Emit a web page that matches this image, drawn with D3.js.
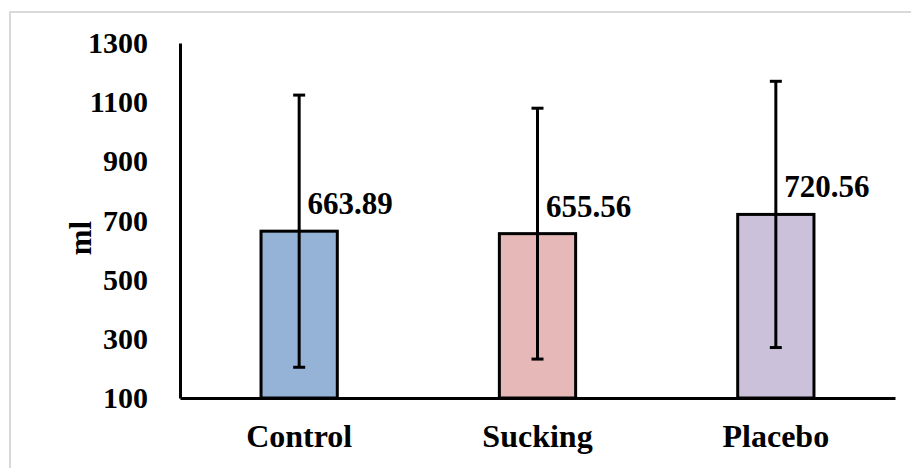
<!DOCTYPE html>
<html><head><meta charset="utf-8">
<script src="https://cdn.jsdelivr.net/npm/d3@7"></script>
<style>body{margin:0;background:#fff}svg{display:block}text{font-family:"Liberation Serif","Times New Roman",serif;font-weight:bold;fill:#000}</style>
</head><body>
<svg id="c" width="911" height="468"></svg>
<script>
const categories = ["Control", "Sucking", "Placebo"];
const means = [663.89, 655.56, 720.56];
const errors = [460, 424, 450];
const colors = ["#95b3d7", "#e6b9b8", "#ccc1da"];
const yTicks = [100, 300, 500, 700, 900, 1100, 1300];

const FONT = '"Liberation Serif","Times New Roman",serif';
const svg = d3.select("#c");
svg.append("rect").attr("x", 10).attr("y", 12).attr("width", 920).attr("height", 480)
  .attr("fill", "#fff").attr("stroke", "#d9d9d9").attr("stroke-width", 2);

const pL = 180, pR = 895, pT = 43, pB = 398;
const x = d3.scaleBand().domain(categories).range([pL, pR]).paddingInner(0.68).paddingOuter(0.34);
const y = d3.scaleLinear().domain([100, 1300]).range([pB, pT]);

// y axis
const ya = svg.append("g").attr("transform", `translate(${pL},0)`)
  .call(d3.axisLeft(y).tickValues(yTicks).tickFormat(d3.format("d")).tickSize(0).tickPadding(32));
ya.attr("font-family", null).attr("font-size", null);
ya.select(".domain").attr("stroke", "#000").attr("stroke-width", 3);
ya.selectAll("text").style("font-size", "30px").style("font-family", FONT).style("font-weight", "bold");

// bars
svg.selectAll("rect.bar").data(categories).enter().append("rect").attr("class", "bar")
  .attr("x", d => x(d)).attr("width", x.bandwidth())
  .attr("y", (d, i) => y(means[i])).attr("height", (d, i) => y(100) - y(means[i]))
  .attr("fill", (d, i) => colors[i]).attr("stroke", "#000").attr("stroke-width", 3);

// x axis
const xa = svg.append("g").attr("transform", `translate(0,${pB})`)
  .call(d3.axisBottom(x).tickSize(0).tickPadding(26));
xa.attr("font-family", null).attr("font-size", null);
xa.select(".domain").attr("stroke", "#000").attr("stroke-width", 3);
xa.selectAll("text").style("font-size", "32px").style("font-family", FONT).style("font-weight", "bold");

// error bars
const eb = svg.append("g");
categories.forEach((c, i) => {
  const cx = x(c) + x.bandwidth() / 2;
  const hi = y(means[i] + errors[i]), lo = y(means[i] - errors[i]);
  eb.append("line").attr("x1", cx).attr("x2", cx).attr("y1", hi).attr("y2", lo).attr("stroke", "#000").attr("stroke-width", 3);
  [hi, lo].forEach(v => eb.append("line").attr("x1", cx - 6).attr("x2", cx + 6).attr("y1", v).attr("y2", v).attr("stroke", "#000").attr("stroke-width", 3));
});

// value labels
svg.selectAll("text.val").data(categories).enter().append("text").attr("class", "val")
  .attr("x", d => x(d) + x.bandwidth() / 2 + 51)
  .attr("y", (d, i) => y(means[i]) - 17)
  .attr("text-anchor", "middle").style("font-size", "31px")
  .text((d, i) => means[i].toFixed(2));

// y title
svg.append("text").attr("transform", "translate(91,238) rotate(-90)")
  .attr("text-anchor", "middle").style("font-size", "31px").text("ml");
</script>
</body></html>
